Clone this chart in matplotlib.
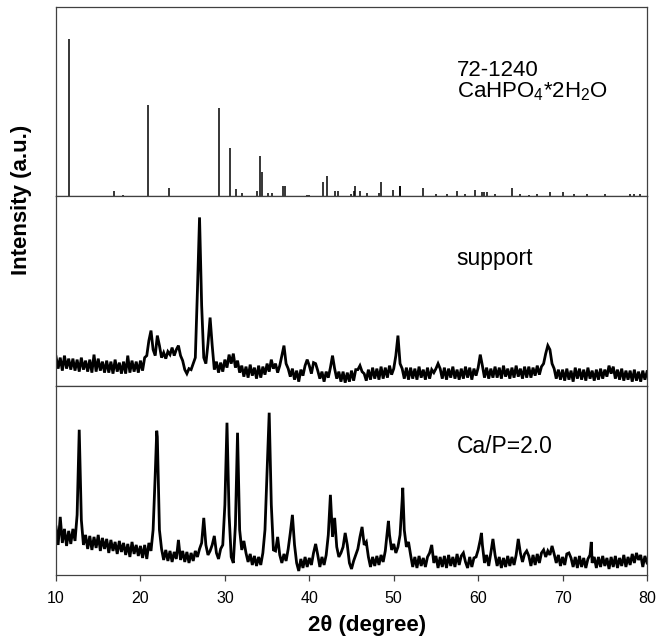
import numpy as np
import matplotlib
matplotlib.use('Agg')
import matplotlib.pyplot as plt

plt.rcParams['font.family'] = ['Liberation Sans', 'DejaVu Sans']
plt.rcParams['mathtext.fontset'] = 'custom'
plt.rcParams['mathtext.rm'] = 'Liberation Sans'
plt.rcParams['mathtext.it'] = 'Liberation Sans:italic'
plt.rcParams['mathtext.bf'] = 'Liberation Sans:bold'

# Padrao de referencia 72-1240 (CaHPO4*2H2O): posicoes e intensidades relativas
ref_pos = [11.58, 16.87, 17.98, 20.94, 23.43, 29.31, 30.57, 31.29, 32.04, 33.86,
           34.17, 34.45, 35.12, 35.63, 36.90, 37.13, 39.70, 40.00, 41.60, 42.07,
           43.06, 43.45, 44.90, 45.30, 45.40, 46.00, 46.80, 48.20, 48.50, 49.97,
           50.70, 50.80, 53.50, 55.00, 56.30, 57.50, 58.50, 59.60, 60.50, 60.70,
           61.00, 62.00, 64.00, 65.00, 66.00, 67.00, 68.50, 70.10, 71.30, 72.90,
           75.05, 78.00, 78.50, 79.20]
ref_int = [100, 3.2, 0.6, 57.6, 5.1, 55.7, 30.4, 4.4, 1.9, 3.2,
           25.9, 15.2, 1.9, 1.9, 6.3, 6.3, 0.6, 0.6, 8.9, 12.7,
           3.2, 3.2, 1.3, 3.2, 6.3, 3.2, 1.9, 1.9, 8.9, 3.8,
           6.3, 6.3, 5.1, 1.3, 1.3, 3.2, 1.3, 3.8, 2.5, 2.5,
           2.5, 1.3, 5.1, 1.3, 0.6, 1.3, 2.5, 2.5, 1.3, 1.3,
           1.3, 1.3, 1.3, 1.3]

# Varredura 10-80 graus, passo 0.25
scan_x = np.linspace(10, 80, 281)

support_y = [29, 17, 28, 15, 30, 17, 27, 16,
             27, 15, 26, 14, 28, 16, 25, 14,
             26, 13, 31, 14, 27, 15, 24, 13,
             25, 13, 24, 12, 26, 14, 23, 12,
             24, 12, 30, 13, 25, 14, 24, 13,
             25, 15, 28, 30, 45, 55, 36, 30,
             50, 40, 28, 33, 27, 34, 31, 38,
             30, 36, 40, 30, 25, 16, 12, 17,
             16, 22, 28, 95, 168, 80, 28, 22,
             42, 68, 40, 16, 24, 13, 23, 14,
             26, 18, 31, 22, 32, 18, 25, 13,
             20, 9, 19, 8, 21, 10, 18, 7,
             20, 8, 19, 11, 22, 14, 26, 17,
             22, 13, 20, 30, 40, 22, 17, 9,
             17, 6, 15, 4, 16, 10, 20, 26,
             20, 12, 23, 22, 15, 7, 14, 4,
             14, 8, 18, 30, 17, 7, 14, 4,
             14, 3, 13, 4, 15, 5, 16, 16,
             20, 14, 12, 5, 16, 6, 18, 7,
             17, 6, 19, 7, 18, 8, 20, 11,
             17, 30, 50, 22, 17, 7, 18, 6,
             18, 7, 17, 6, 19, 8, 16, 6,
             18, 7, 16, 13, 17, 22, 17, 7,
             18, 6, 17, 8, 19, 7, 16, 6,
             17, 7, 19, 8, 18, 6, 17, 10,
             18, 31, 20, 8, 18, 7, 17, 8,
             19, 8, 18, 7, 20, 9, 17, 7,
             18, 8, 20, 9, 17, 7, 19, 8,
             19, 8, 18, 10, 20, 11, 19, 22,
             32, 40, 36, 22, 17, 7, 16, 6,
             16, 5, 17, 6, 15, 4, 18, 7,
             17, 6, 16, 5, 18, 7, 15, 5,
             16, 6, 17, 7, 16, 9, 20, 12,
             19, 7, 16, 6, 17, 5, 15, 6,
             15, 4, 16, 5, 14, 4, 15, 6,
             14]

cap_y = [48, 30, 58, 32, 46, 29, 44, 31,
         46, 34, 60, 145, 55, 30, 40, 26,
         39, 25, 38, 27, 40, 24, 37, 26,
         36, 22, 35, 24, 33, 21, 34, 23,
         32, 20, 31, 18, 33, 21, 30, 19,
         29, 17, 30, 16, 32, 24, 45, 100,
         138, 45, 26, 15, 25, 14, 24, 13,
         23, 16, 35, 15, 24, 13, 23, 12,
         22, 14, 24, 18, 26, 32, 57, 30,
         20, 24, 30, 39, 22, 16, 26, 30,
         70, 152, 60, 18, 12, 50, 142, 45,
         25, 34, 22, 13, 21, 10, 19, 9,
         18, 10, 22, 45, 105, 162, 70, 25,
         24, 38, 20, 12, 21, 14, 26, 42,
         60, 30, 12, 4, 16, 7, 18, 8,
         17, 10, 22, 31, 20, 8, 18, 10,
         20, 40, 80, 38, 57, 28, 18, 22,
         28, 42, 30, 12, 6, 14, 20, 26,
         38, 48, 30, 33, 18, 8, 18, 9,
         19, 10, 20, 13, 24, 45, 40, 25,
         31, 22, 28, 40, 75, 45, 28, 33,
         20, 8, 18, 7, 19, 9, 17, 8,
         18, 22, 30, 12, 19, 7, 18, 8,
         19, 7, 20, 9, 18, 8, 21, 10,
         19, 22, 13, 7, 18, 8, 17, 18,
         25, 35, 30, 12, 20, 9, 22, 36,
         20, 9, 18, 7, 17, 8, 19, 9,
         18, 10, 20, 36, 22, 13, 21, 24,
         19, 9, 20, 10, 21, 12, 22, 25,
         18, 24, 20, 29, 21, 12, 20, 9,
         18, 10, 21, 22, 17, 8, 18, 7,
         19, 8, 17, 7, 16, 20, 12, 18,
         7, 18, 8, 19, 9, 17, 6, 18,
         8, 19, 7, 17, 9, 20, 8, 18,
         10, 21, 12, 22, 15, 20, 8, 19,
         12]

# topos de picos fora da grade
cap_peak_x = [21.93, 49.37, 51.07, 60.39, 73.40]
cap_peak_y = [144, 54, 87, 42, 33]

# juntar pontos da grade com os topos
cap_x = np.concatenate([scan_x, cap_peak_x])
cap_all = np.concatenate([cap_y, cap_peak_y])
ordem = np.argsort(cap_x)
cap_x = cap_x[ordem]
cap_all = cap_all[ordem]

# Criar Grafico
fig, axs = plt.subplots(3, 1, figsize=(6.7, 6.41), dpi=100, sharex=True)
fig.subplots_adjust(left=0.0836, right=0.9657, bottom=0.103, top=0.989, hspace=0)

axs[0].vlines(ref_pos, 0, ref_int, color='black', lw=1.1)
axs[0].set_ylim(0, 120)
axs[0].text(0.678, 0.638, '72-1240', transform=axs[0].transAxes, fontsize=16, va='baseline')
axs[0].text(0.678, 0.522, 'CaHPO$_4$*2H$_2$O', transform=axs[0].transAxes, fontsize=16, va='baseline')

axs[1].plot(scan_x, support_y, color='black', lw=2.0, solid_joinstyle='miter')
axs[1].set_ylim(0, 189)
axs[1].text(0.677, 0.64, 'support', transform=axs[1].transAxes, fontsize=16.5, va='baseline')

axs[2].plot(cap_x, cap_all, color='black', lw=2.0, solid_joinstyle='miter')
axs[2].set_ylim(0, 189)
axs[2].text(0.678, 0.642, 'Ca/P=2.0', transform=axs[2].transAxes, fontsize=16.5, va='baseline')

for ax in axs:
    ax.set_xlim(10, 80)
    ax.set_yticks([])
    for s in ax.spines.values():
        s.set_color('#404040')
        s.set_linewidth(0.9)
    ax.tick_params(axis='x', which='both', bottom=False, top=False, labelbottom=False)

axs[2].set_xticks([10, 20, 30, 40, 50, 60, 70, 80])
axs[2].tick_params(axis='x', bottom=True, labelbottom=True, direction='out', length=4.5,
                   width=0.9, color='#404040', labelsize=11.5, pad=7)

fig.text(367 / 670, 1 - 625 / 641, '2\u03b8 (degree)', fontsize=16, fontweight='bold',
         ha='center', va='center')
fig.text(22 / 670, 1 - 200 / 641, 'Intensity (a.u.)', fontsize=16, fontweight='bold',
         rotation=90, ha='center', va='center')

plt.savefig('out.png', dpi=100)
